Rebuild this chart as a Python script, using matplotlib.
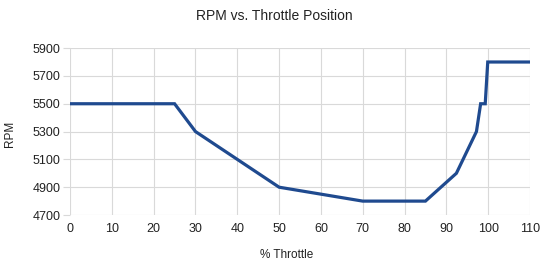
import matplotlib
matplotlib.use("Agg")
import matplotlib.pyplot as plt

plt.rcParams['font.family'] = ['Liberation Sans', 'DejaVu Sans']

# Dados
throttle = [0, 25, 30, 50, 70, 85, 92.4, 97.2, 98.2, 99.3, 99.9, 110]
rpm = [5500, 5500, 5300, 4900, 4800, 4800, 5000, 5300, 5500, 5500, 5800, 5800]
x_ticks = list(range(0, 111, 10))
y_ticks = list(range(4700, 5901, 200))

fig = plt.figure(figsize=(5.43, 2.6), dpi=100)
ax = fig.add_axes([0.129, 0.173, 0.847, 0.642])

ax.plot(throttle, rpm, color='#1f4a8f', linewidth=2.3, solid_joinstyle='miter')

ax.set_xlim(0, 110)
ax.set_ylim(4700, 5900)
ax.set_xticks(x_ticks)
ax.set_yticks(y_ticks)
ax.grid(True, color='#d9d9d9', linewidth=0.8)
ax.set_axisbelow(True)
for s in ax.spines.values():
    s.set_visible(False)
ax.tick_params(axis='x', length=0, labelsize=9, colors='#222222', pad=6)
ax.tick_params(axis='y', length=5, width=0.8, color='#d9d9d9', labelsize=9, labelcolor='#222222', pad=2)

fig.text(0.527, 1 - 254.5 / 260, '% Throttle', fontsize=8.5, color='#222222', ha='center', va='center')
fig.text(9.5 / 543, 1 - 133.5 / 260, 'RPM', fontsize=8.5, color='#222222', ha='center', va='center', rotation=90)
fig.text(0.505, 1 - 16.5 / 260, 'RPM vs. Throttle Position', fontsize=10, color='#222222', ha='center', va='center')

plt.savefig('out.png', dpi=100)
plt.close()
